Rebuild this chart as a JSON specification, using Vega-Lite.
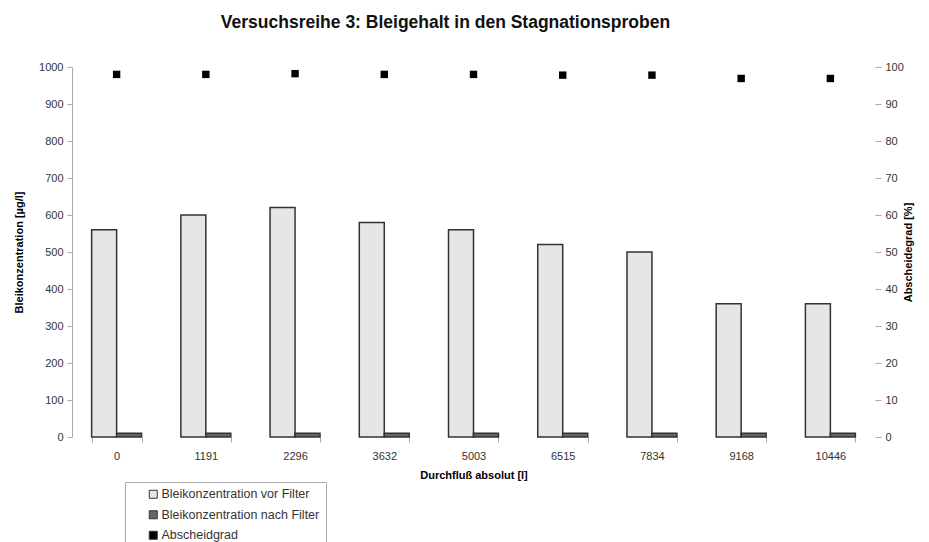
{
  "$schema": "https://vega.github.io/schema/vega-lite/v6.json",
  "width": 803,
  "height": 370,
  "autosize": {"type": "none"},
  "padding": {"left": 72, "top": 67, "right": 54, "bottom": 105},
  "background": "white",
  "config": {"font": "Liberation Sans", "view": {"stroke": null}},
  "title": {
    "text": "Versuchsreihe 3: Bleigehalt in den Stagnationsproben",
    "fontSize": 17.5,
    "fontWeight": "bold",
    "color": "#111111",
    "anchor": "middle",
    "dx": -28,
    "offset": 30
  },
  "datasets": {
    "bars": [
      {"durchfluss": "0", "serie": "Bleikonzentration vor Filter", "wert": 560},
      {"durchfluss": "0", "serie": "Bleikonzentration nach Filter", "wert": 10},
      {"durchfluss": "1191", "serie": "Bleikonzentration vor Filter", "wert": 600},
      {"durchfluss": "1191", "serie": "Bleikonzentration nach Filter", "wert": 10},
      {"durchfluss": "2296", "serie": "Bleikonzentration vor Filter", "wert": 620},
      {"durchfluss": "2296", "serie": "Bleikonzentration nach Filter", "wert": 10},
      {"durchfluss": "3632", "serie": "Bleikonzentration vor Filter", "wert": 580},
      {"durchfluss": "3632", "serie": "Bleikonzentration nach Filter", "wert": 10},
      {"durchfluss": "5003", "serie": "Bleikonzentration vor Filter", "wert": 560},
      {"durchfluss": "5003", "serie": "Bleikonzentration nach Filter", "wert": 10},
      {"durchfluss": "6515", "serie": "Bleikonzentration vor Filter", "wert": 520},
      {"durchfluss": "6515", "serie": "Bleikonzentration nach Filter", "wert": 10},
      {"durchfluss": "7834", "serie": "Bleikonzentration vor Filter", "wert": 500},
      {"durchfluss": "7834", "serie": "Bleikonzentration nach Filter", "wert": 10},
      {"durchfluss": "9168", "serie": "Bleikonzentration vor Filter", "wert": 360},
      {"durchfluss": "9168", "serie": "Bleikonzentration nach Filter", "wert": 10},
      {"durchfluss": "10446", "serie": "Bleikonzentration vor Filter", "wert": 360},
      {"durchfluss": "10446", "serie": "Bleikonzentration nach Filter", "wert": 10}
    ],
    "grad": [
      {"durchfluss": "0", "serie": "Abscheidgrad", "grad": 98},
      {"durchfluss": "1191", "serie": "Abscheidgrad", "grad": 98},
      {"durchfluss": "2296", "serie": "Abscheidgrad", "grad": 98.2},
      {"durchfluss": "3632", "serie": "Abscheidgrad", "grad": 98},
      {"durchfluss": "5003", "serie": "Abscheidgrad", "grad": 98},
      {"durchfluss": "6515", "serie": "Abscheidgrad", "grad": 97.8},
      {"durchfluss": "7834", "serie": "Abscheidgrad", "grad": 97.8},
      {"durchfluss": "9168", "serie": "Abscheidgrad", "grad": 96.9},
      {"durchfluss": "10446", "serie": "Abscheidgrad", "grad": 96.9}
    ]
  },
  "layer": [
    {
      "data": {"name": "bars"},
      "mark": {"type": "bar", "stroke": "#333333", "strokeWidth": 1.5},
      "encoding": {
        "x": {
          "field": "durchfluss",
          "type": "ordinal",
          "sort": ["0", "1191", "2296", "3632", "5003", "6515", "7834", "9168", "10446"],
          "scale": {"paddingInner": 0.44, "paddingOuter": 0.22},
          "axis": {
            "title": "Durchfluß absolut [l]",
            "titleFontSize": 11,
            "titleFontWeight": "bold",
            "titleColor": "#000000",
            "titlePadding": 8,
            "labelAngle": 0,
            "labelFontSize": 11,
            "labelColor": "#333333",
            "labelPadding": 8,
            "domain": false,
            "tickBand": "extent",
            "tickSize": 5,
            "tickColor": "#aaaaaa"
          }
        },
        "xOffset": {
          "field": "serie",
          "type": "nominal",
          "sort": ["Bleikonzentration vor Filter", "Bleikonzentration nach Filter"],
          "scale": {"paddingInner": 0, "paddingOuter": 0}
        },
        "y": {
          "field": "wert",
          "type": "quantitative",
          "scale": {"domain": [0, 1000], "nice": false},
          "axis": {
            "title": "Bleikonzentration [µg/l]",
            "titleFontSize": 11,
            "titleFontWeight": "bold",
            "titleColor": "#000000",
            "titlePadding": 14,
            "values": [0, 100, 200, 300, 400, 500, 600, 700, 800, 900, 1000],
            "format": "d",
            "labelFontSize": 11,
            "labelColor": "#333333",
            "labelPadding": 4,
            "grid": false,
            "domainColor": "#aaaaaa",
            "tickColor": "#aaaaaa",
            "tickSize": 5
          }
        },
        "color": {
          "field": "serie",
          "type": "nominal",
          "scale": {
            "domain": ["Bleikonzentration vor Filter", "Bleikonzentration nach Filter", "Abscheidgrad"],
            "range": ["#e6e6e6", "#666666", "#000000"]
          },
          "legend": {
            "title": null,
            "orient": "none",
            "legendX": 53,
            "legendY": 415,
            "direction": "vertical",
            "symbolType": "square",
            "symbolSize": 64,
            "symbolStrokeColor": "#333333",
            "symbolStrokeWidth": 1,
            "symbolOffset": 16,
            "labelFontSize": 12.5,
            "labelLimit": 400,
            "labelColor": "#333333",
            "labelOffset": 2,
            "rowPadding": 7.5,
            "padding": 6,
            "strokeColor": "#aaaaaa",
            "fillColor": "#ffffff"
          }
        }
      }
    },
    {
      "data": {"name": "grad"},
      "mark": {"type": "square", "size": 55, "opacity": 1, "filled": true},
      "encoding": {
        "x": {
          "field": "durchfluss",
          "type": "ordinal",
          "sort": ["0", "1191", "2296", "3632", "5003", "6515", "7834", "9168", "10446"]
        },
        "y": {
          "field": "grad",
          "type": "quantitative",
          "scale": {"domain": [0, 100], "nice": false},
          "axis": {
            "orient": "right",
            "title": "Abscheidegrad [%]",
            "titleAngle": 270,
            "titleFontSize": 11,
            "titleFontWeight": "bold",
            "titleColor": "#000000",
            "titlePadding": 10,
            "values": [0, 10, 20, 30, 40, 50, 60, 70, 80, 90, 100],
            "labelFontSize": 11,
            "labelColor": "#333333",
            "labelPadding": 4,
            "grid": false,
            "domain": false,
            "tickColor": "#aaaaaa",
            "tickSize": 6
          }
        },
        "color": {"field": "serie", "type": "nominal"}
      }
    }
  ],
  "resolve": {"scale": {"y": "independent"}}
}
